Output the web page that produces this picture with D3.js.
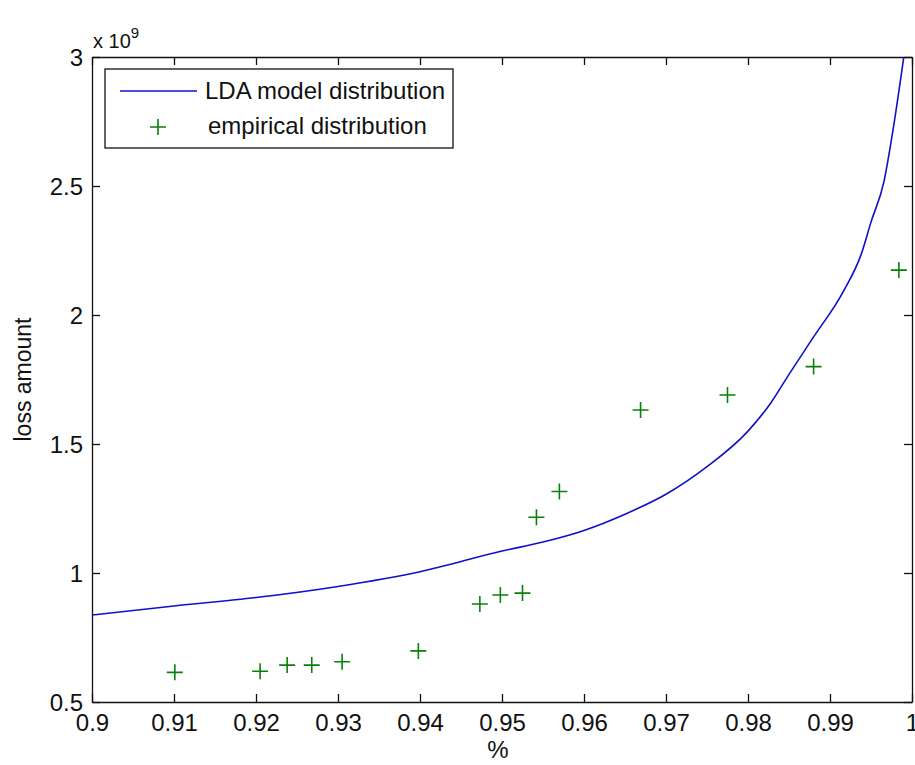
<!DOCTYPE html>
<html>
<head>
<meta charset="utf-8">
<script src="https://cdn.jsdelivr.net/npm/d3@7"></script>
<style>
  html, body { margin: 0; padding: 0; background: #fff; }
  svg { display: block; }
  text { font-family: "Liberation Sans", Arial, sans-serif; fill: #111; }
</style>
</head>
<body>
<svg id="chart" width="915" height="765"></svg>
<script>
// ---- data ----
const xTicks = [0.9, 0.91, 0.92, 0.93, 0.94, 0.95, 0.96, 0.97, 0.98, 0.99, 1];
const xTickLabels = ["0.9", "0.91", "0.92", "0.93", "0.94", "0.95", "0.96", "0.97", "0.98", "0.99", "1"];
const yTicks = [0.5, 1, 1.5, 2, 2.5, 3];
const yTickLabels = ["0.5", "1", "1.5", "2", "2.5", "3"];

// LDA model distribution (loss amount in units of 1e9)
const modelX = [0.900, 0.910, 0.920, 0.930, 0.940, 0.950, 0.955, 0.960, 0.965, 0.970, 0.975, 0.980, 0.9828, 0.985, 0.988, 0.9916, 0.9938, 0.995, 0.9966, 0.9977, 0.9990];
const modelY = [0.837, 0.872, 0.905, 0.948, 1.005, 1.085, 1.120, 1.165, 1.228, 1.305, 1.412, 1.550, 1.660, 1.770, 1.915, 2.090, 2.235, 2.360, 2.520, 2.720, 3.000];

// empirical distribution
const empX = [0.9101, 0.9205, 0.9238, 0.9268, 0.9305, 0.9398, 0.9473, 0.9498, 0.9525, 0.9542, 0.9570, 0.9669, 0.9775, 0.9880, 0.9984];
const empY = [0.615, 0.619, 0.643, 0.643, 0.656, 0.698, 0.880, 0.915, 0.922, 1.216, 1.316, 1.632, 1.690, 1.800, 2.174];

// ---- layout ----
const L = 92, R = 912, T = 57, B = 702;
const svg = d3.select("#chart");
const x = d3.scaleLinear().domain([0.9, 1]).range([L, R]);
const y = d3.scaleLinear().domain([0.5, 3]).range([B, T]);

svg.append("defs").append("clipPath").attr("id", "clip")
  .append("rect").attr("x", L).attr("y", T).attr("width", R - L).attr("height", B - T);

const fontSize = 24;
const tickLen = 8;

const fmtX = (d, i) => xTickLabels[i];
const fmtY = (d, i) => yTickLabels[i];

const axB = svg.append("g").attr("transform", `translate(0,${B})`)
  .call(d3.axisBottom(x).tickValues(xTicks).tickFormat(fmtX).tickSizeInner(-tickLen).tickSizeOuter(0).tickPadding(12));
const axT = svg.append("g").attr("transform", `translate(0,${T})`)
  .call(d3.axisTop(x).tickValues(xTicks).tickFormat("").tickSizeInner(-tickLen).tickSizeOuter(0));
const axL = svg.append("g").attr("transform", `translate(${L},0)`)
  .call(d3.axisLeft(y).tickValues(yTicks).tickFormat(fmtY).tickSizeInner(-tickLen).tickSizeOuter(0).tickPadding(9));
const axR = svg.append("g").attr("transform", `translate(${R},0)`)
  .call(d3.axisRight(y).tickValues(yTicks).tickFormat("").tickSizeInner(-tickLen).tickSizeOuter(0));

[axB, axT, axL, axR].forEach(a => {
  a.selectAll("path.domain").attr("stroke", "#111").attr("stroke-width", 1.3);
  a.selectAll(".tick line").attr("stroke", "#111").attr("stroke-width", 1.3);
  a.selectAll(".tick text").attr("font-family", '"Liberation Sans", Arial, sans-serif')
    .attr("font-size", fontSize).attr("fill", "#111");
});
axB.selectAll(".tick text").attr("dy", "0.71em");
axL.selectAll(".tick text").attr("dy", "0.35em");

// exponent label
const expo = svg.append("text").attr("x", L + 1).attr("y", 48).attr("font-size", 20);
expo.append("tspan").text("x 10");
expo.append("tspan").attr("dy", -10).attr("font-size", 15).text("9");

// axis titles
svg.append("text").attr("x", (L + R) / 2 - 4).attr("y", 758)
  .attr("text-anchor", "middle").attr("font-size", fontSize).text("%");
svg.append("text").attr("transform", `translate(31,${(T + B) / 2}) rotate(-90)`)
  .attr("text-anchor", "middle").attr("font-size", 23).text("loss amount");

// model line
const line = d3.line().x((d, i) => x(modelX[i])).y((d, i) => y(modelY[i])).curve(d3.curveMonotoneX);
svg.append("path").datum(modelX).attr("clip-path", "url(#clip)")
  .attr("d", line).attr("fill", "none").attr("stroke", "#1010c8").attr("stroke-width", 1.6);

// empirical plus markers
const cross = 8;
const gEmp = svg.append("g");
empX.forEach((vx, i) => {
  const cx = x(vx), cy = y(empY[i]);
  gEmp.append("path")
    .attr("d", `M${cx - cross},${cy}H${cx + cross}M${cx},${cy - cross}V${cy + cross}`)
    .attr("stroke", "#0a800a").attr("stroke-width", 1.6).attr("fill", "none");
});

// legend
const lg = svg.append("g");
lg.append("rect").attr("x", 105).attr("y", 69).attr("width", 348).attr("height", 79)
  .attr("fill", "#fff").attr("stroke", "#111").attr("stroke-width", 1.3);
lg.append("line").attr("x1", 120).attr("x2", 197).attr("y1", 91).attr("y2", 91)
  .attr("stroke", "#1010c8").attr("stroke-width", 1.6);
lg.append("text").attr("x", 205).attr("y", 91).attr("dy", "0.35em").attr("font-size", fontSize)
  .text("LDA model distribution");
lg.append("path").attr("d", `M${158 - cross},127H${158 + cross}M158,${127 - cross}V${127 + cross}`)
  .attr("stroke", "#0a800a").attr("stroke-width", 1.6);
lg.append("text").attr("x", 208).attr("y", 126).attr("dy", "0.35em").attr("font-size", fontSize)
  .text("empirical distribution");
</script>
</body>
</html>
